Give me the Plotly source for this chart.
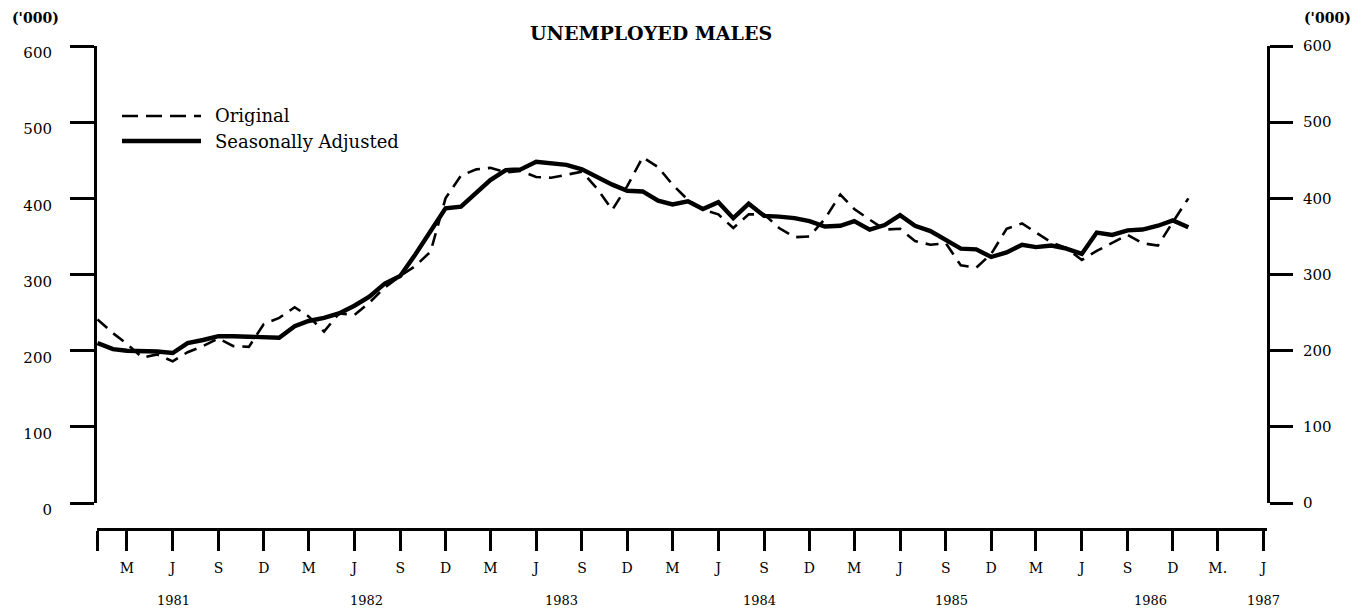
import pandas as pd
import plotly.graph_objects as go

# ---------------- data (thousands) ----------------
months = pd.date_range("1981-01-01", periods=73, freq="MS")  # Jan 1981 .. Jan 1987

original = [241, 223, 209, 191, 195, 186, 198, 206, 216, 206, 205, 235,
            243, 257, 245, 225, 249, 247, 263, 283, 298, 311, 330, 400,
            430, 438, 440, 434, 436, 428, 427, 431, 435, 413, 385, 416,
            454, 441, 418, 398, 385, 379, 361, 379, 379, 361, 349, 350,
            373, 405, 386, 372, 359, 360, 344, 339, 341, 312, 309, 327,
            360, 367, 355, 342, 335, 319, 331, 341, 352, 341, 338, 369,
            400]

seasonally_adjusted = [210, 202, 200, 200, 199, 197, 210, 214, 219, 219, 218, 217,
                       217, 232, 239, 243, 249, 259, 271, 288, 298, 326, 357, 387,
                       389, 407, 424, 437, 438, 448, 446, 444, 438, 428, 418, 410,
                       409, 397, 392, 396, 386, 395, 374, 393, 377, 376, 374, 370,
                       363, 364, 370, 359, 365, 378, 364, 357, 345, 334, 333, 323,
                       329, 339, 336, 338, 334, 327, 355, 352, 358, 359, 364, 371,
                       362]

tick_dates = ["1981-01-01"] + [f"{y}-{m:02d}-01" for y in range(1981, 1987) for m in (3, 6, 9, 12)] \
             + ["1987-03-01", "1987-06-01"]
tick_text = [""] + ["M", "J", "S", "D"] * 6 + ["M.", "J"]

year_labels = ["1981", "1982", "1983", "1984", "1985", "1986", "1987"]
year_label_dates = ["1981-06-03", "1982-06-25", "1983-07-22", "1984-08-22",
                    "1985-09-13", "1986-10-16", "1987-06-01"]

y_ticks = [0, 100, 200, 300, 400, 500, 600]

# ---------------- figure ----------------
SERIF = "DejaVu Serif"
BLACK = "black"

fig = go.Figure()
fig.add_trace(go.Scatter(x=months, y=original, mode="lines", name="Original",
                         line=dict(color=BLACK, width=2.6, dash="13px,8px"),
                         showlegend=False))
fig.add_trace(go.Scatter(x=months, y=seasonally_adjusted, mode="lines",
                         name="Seasonally Adjusted",
                         line=dict(color=BLACK, width=4.4), showlegend=False))
# invisible helper trace so the right axis is rendered
fig.add_trace(go.Scatter(x=[months[0]], y=[0], yaxis="y2", mode="markers",
                         marker=dict(opacity=0), showlegend=False, hoverinfo="skip"))

ytick_font = dict(family=SERIF, size=15, color=BLACK)

# The page body has an 8px margin, so the figure is sized/offset to compensate.
fig.update_layout(
    width=1361, height=606,
    margin=dict(l=89, r=102, t=38, b=85),
    plot_bgcolor="white", paper_bgcolor="white",
    xaxis=dict(range=["1980-12-31", "1987-06-08"], anchor="free", position=0,
               tickmode="array", tickvals=tick_dates, ticktext=tick_text,
               ticks="outside", ticklen=20, tickwidth=3, tickcolor=BLACK,
               showline=True, linewidth=3, linecolor=BLACK,
               showgrid=False, zeroline=False,
               tickfont=dict(family=SERIF, size=14, color=BLACK),
               ticklabelstandoff=5),
    yaxis=dict(range=[0, 600], domain=[0.0538, 1], tickmode="array", tickvals=y_ticks,
               ticks="outside", ticklen=24, tickwidth=3, tickcolor=BLACK,
               showline=True, linewidth=3, linecolor=BLACK,
               showgrid=False, zeroline=False, tickfont=ytick_font,
               ticklabelshift=7, ticklabelstandoff=15),
    yaxis2=dict(range=[0, 600], overlaying="y", side="right", anchor="x",
                tickmode="array", tickvals=y_ticks,
                ticks="outside", ticklen=23, tickwidth=3, tickcolor=BLACK,
                showline=True, linewidth=3, linecolor=BLACK,
                showgrid=False, zeroline=False, tickfont=ytick_font,
                ticklabelstandoff=7),
)


def px_x(px):
    """page pixel -> paper x (plot area spans page x 97..1267)"""
    return (px - 97) / 1170


def px_y(py):
    """page pixel -> paper y (plot area spans page y 46..529)"""
    return (529 - py) / 483


# year labels under the month ticks
for lab, d in zip(year_labels, year_label_dates):
    fig.add_annotation(x=d, xref="x", y=px_y(600), yref="paper", text=lab, showarrow=False,
                       font=dict(family=SERIF, size=13, color=BLACK),
                       xanchor="center", yanchor="middle")

# title and units
fig.add_annotation(x=px_x(651), xref="paper", y=px_y(33), yref="paper",
                   text="<b>UNEMPLOYED MALES</b>", showarrow=False,
                   font=dict(family=SERIF, size=19, color=BLACK),
                   xanchor="center", yanchor="middle")
for cx in (35, 1327):
    fig.add_annotation(x=px_x(cx), xref="paper", y=px_y(18), yref="paper",
                       text="<b>('000)</b>", showarrow=False,
                       font=dict(family=SERIF, size=14, color=BLACK),
                       xanchor="center", yanchor="middle")

# legend (drawn manually to match the long line samples)
fig.add_shape(type="line", xref="paper", yref="paper",
              x0=px_x(122), x1=px_x(201), y0=px_y(116), y1=px_y(116),
              line=dict(color=BLACK, width=2.6, dash="16px,8px"))
fig.add_shape(type="line", xref="paper", yref="paper",
              x0=px_x(122), x1=px_x(201), y0=px_y(141), y1=px_y(141),
              line=dict(color=BLACK, width=4.4))
fig.add_annotation(x=px_x(213), xref="paper", y=px_y(116), yref="paper",
                   text="Original", showarrow=False,
                   font=dict(family=SERIF, size=18, color=BLACK),
                   xanchor="left", yanchor="middle")
fig.add_annotation(x=px_x(213), xref="paper", y=px_y(141), yref="paper",
                   text="Seasonally Adjusted", showarrow=False,
                   font=dict(family=SERIF, size=18, color=BLACK),
                   xanchor="left", yanchor="middle")

fig.write_html("out.html")
